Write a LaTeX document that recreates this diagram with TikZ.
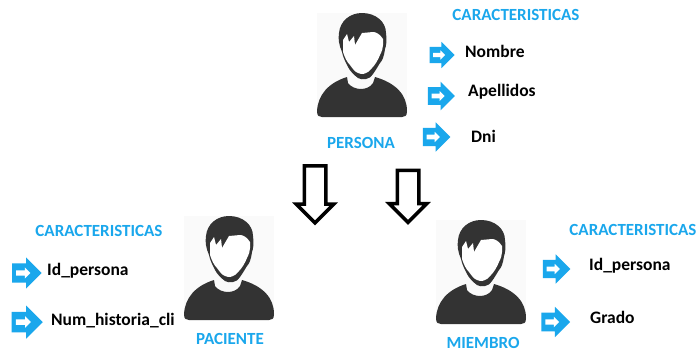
\documentclass[tikz,border=0pt]{standalone}
\usepackage{fontspec}
\setmainfont{Carlito}
\usetikzlibrary{positioning, shapes.arrows}
\definecolor{azul}{HTML}{1AA7EC}
\definecolor{oscuro}{HTML}{333333}

\begin{document}
\begin{tikzpicture}[
    x=1pt, y=-1pt,
    titulo/.style={font=\bfseries\fontsize{17}{17}\selectfont, text=azul, inner sep=0pt},
    campo/.style={font=\bfseries\fontsize{17.5}{17.5}\selectfont, text=black, inner sep=0pt, anchor=west},
    flecha/.style={single arrow, fill=azul, inner sep=8pt, minimum height=25pt, single arrow head extend=5pt, single arrow head indent=0pt},
    flechita/.style={single arrow, fill=white, inner sep=2pt, minimum height=12pt, single arrow head extend=2.5pt, single arrow head indent=0pt},
    bajar/.style={single arrow, draw=black, line width=3.5pt, fill=white, inner sep=9pt, rotate=-90, minimum height=57pt, single arrow head extend=8pt, single arrow head indent=0pt},
    persona/.pic={
      % fondo, cuerpo, cuello, cabeza, cara
      \fill[black!2] (-45,0) rectangle (45,104);
      \fill[oscuro] (-45,98) .. controls (-44,82) and (-34,70) .. (-15,64) -- (-14,70)
        .. controls (-8,78) and (6,78) .. (11,70) -- (13,64)
        .. controls (34,70) and (45,82) .. (45,98) .. controls (45,103) and (43,104) .. (40,104)
        -- (-40,104) .. controls (-43,104) and (-45,103) .. (-45,98) -- cycle;
      \fill[oscuro] (0,0) .. controls (14,0) and (24,9) .. (24,20) .. controls (25,28) and (24,34) .. (23,36)
        .. controls (22,44) and (20,48) .. (18,50) .. controls (13,58) and (9,66) .. (4,66)
        .. controls (1,67) and (-2,66) .. (-4,65) .. controls (-8,62) and (-12,58) .. (-14,54)
        .. controls (-17,48) and (-19,44) .. (-20,39) .. controls (-23,32) and (-24,26) .. (-23,20)
        .. controls (-22,8) and (-12,0) .. (0,0) -- cycle;
      \fill[white] (21,26) .. controls (18,21) and (14,19) .. (11,19) -- (0,20) -- (-7,32) -- (-8,23)
        -- (-13,29) -- (-15,21) -- (-19,27) -- (-19,39) .. controls (-17,45) and (-15,49) .. (-12,52)
        .. controls (-9,56) and (-7,59) .. (-4,60) .. controls (-2,61) and (0,61) .. (1,61)
        .. controls (5,60) and (8,58) .. (10,55) .. controls (13,52) and (16,47) .. (18,42)
        .. controls (20,38) and (21,35) .. (21,32) -- cycle;
    }
]
\useasboundingbox[fill=white] (0,0) rectangle (699,354);

  % Personas
  \pic (sup) at (362,13) {persona};
  \pic (izq) at (229,216) {persona};
  \pic (der) at (481,220) {persona};

  % Nombres
  \node[titulo] (persona) at (361,143) {PERSONA};
  \node[titulo] (paciente) at (230,339) {PACIENTE};
  \node[titulo] (miembro) at (483,343) {MIEMBRO};

  % Titulos
  \node[titulo] (carsup) at (516,15) {CARACTERISTICAS};
  \node[titulo] (carizq) at (99,231) {CARACTERISTICAS};
  \node[titulo] (carder) at (633,230) {CARACTERISTICAS};

  % Flechas azules
  \foreach \nombre/\px/\py/\esc in {a/438/55/1, b/437/96/1.08, c/432/137/1.1, d/22/273/1.18, e/22/322/1.25, f/552/269/1.1, g/551/322/1.15} {
    \node[flecha, scale=\esc] (fl\nombre) at (\px,\py) {};
    \node[flechita, scale=\esc] (in\nombre) at (\px,\py) {};
  }

  % Campos
  \node[campo] (nombre) at (465,51) {Nombre};
  \node[campo] (apellidos) at (468,92) {Apellidos};
  \node[campo] (dni) at (471,136) {Dni};
  \node[campo] (idizq) at (47,271) {Id\_persona};
  \node[campo] (num) at (51,321) {Num\_historia\_cli};
  \node[campo] (idder) at (589,266) {Id\_persona};
  \node[campo] (grado) at (590,317) {Grado};

  % Flechas negras
  \node[bajar] (baja1) at (315,189) {};
  \node[bajar, minimum height=52pt] (baja2) at (408,191) {};

\end{tikzpicture}
\end{document}
